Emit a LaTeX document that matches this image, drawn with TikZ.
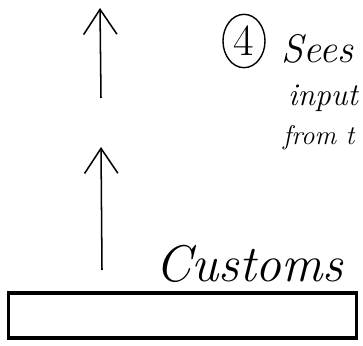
\documentclass[tikz,border=0pt]{standalone}
\usepackage{fontspec}
\usepackage{tikz}
\usetikzlibrary{shapes.geometric, arrows.meta, positioning}

\begin{document}
\begin{tikzpicture}[
		x=0.03cm, y=-0.03cm,
		% Defining consistent styles
		handtext/.style={
				inner sep=0pt,
				anchor=base west,
				font=\fontsize{27}{27}\selectfont\itshape
			},
		bigtext/.style={
				inner sep=0pt,
				anchor=base west,
				font=\fontsize{44}{44}\selectfont\itshape
			},
		stepmark/.style={
				ellipse,
				draw=black,
				line width=1.2pt,
				minimum width=1.26cm,
				minimum height=1.6cm,
				inner sep=0pt,
				font=\fontsize{38}{38}\selectfont
			},
		bar/.style={
				rectangle,
				draw=black,
				line width=2.8pt,
				minimum width=10.45cm,
				minimum height=1.35cm,
				fill=white
			},
		% Defining arrow styles
		arrow/.style={
				-{Straight Barb[length=0.75cm,width=1.0cm]},
				line width=1.3pt,
				draw=black
			}
		]

		\useasboundingbox (0,0) rectangle (363,346);

		% Note at the top right
		\node[stepmark] (step_four) at (244,41) {4};
		\node[handtext, font=\fontsize{34}{34}\selectfont\itshape] (sees) at (281,63) {Sees};
		\node[handtext] (input) at (288,106) {input};
		\node[handtext, font=\fontsize{23}{23}\selectfont\itshape] (from) at (283,145) {from t};

		% Bar with its label
		\node[bar] (customs_bar) at (182.5,315.5) {};
		\node[bigtext] (customs) at (155,282) {Customs};

		% Arrow ends
		\coordinate (upper_tail) at (101,98);
		\coordinate (upper_tip) at (100,8);
		\coordinate (lower_tail) at (102,270);
		\coordinate (lower_tip) at (101,147);

		% Drawing arrows
		\draw[arrow] (upper_tail) -- (upper_tip);
		\draw[arrow] (lower_tail) -- (lower_tip);

	\end{tikzpicture}
\end{document}
